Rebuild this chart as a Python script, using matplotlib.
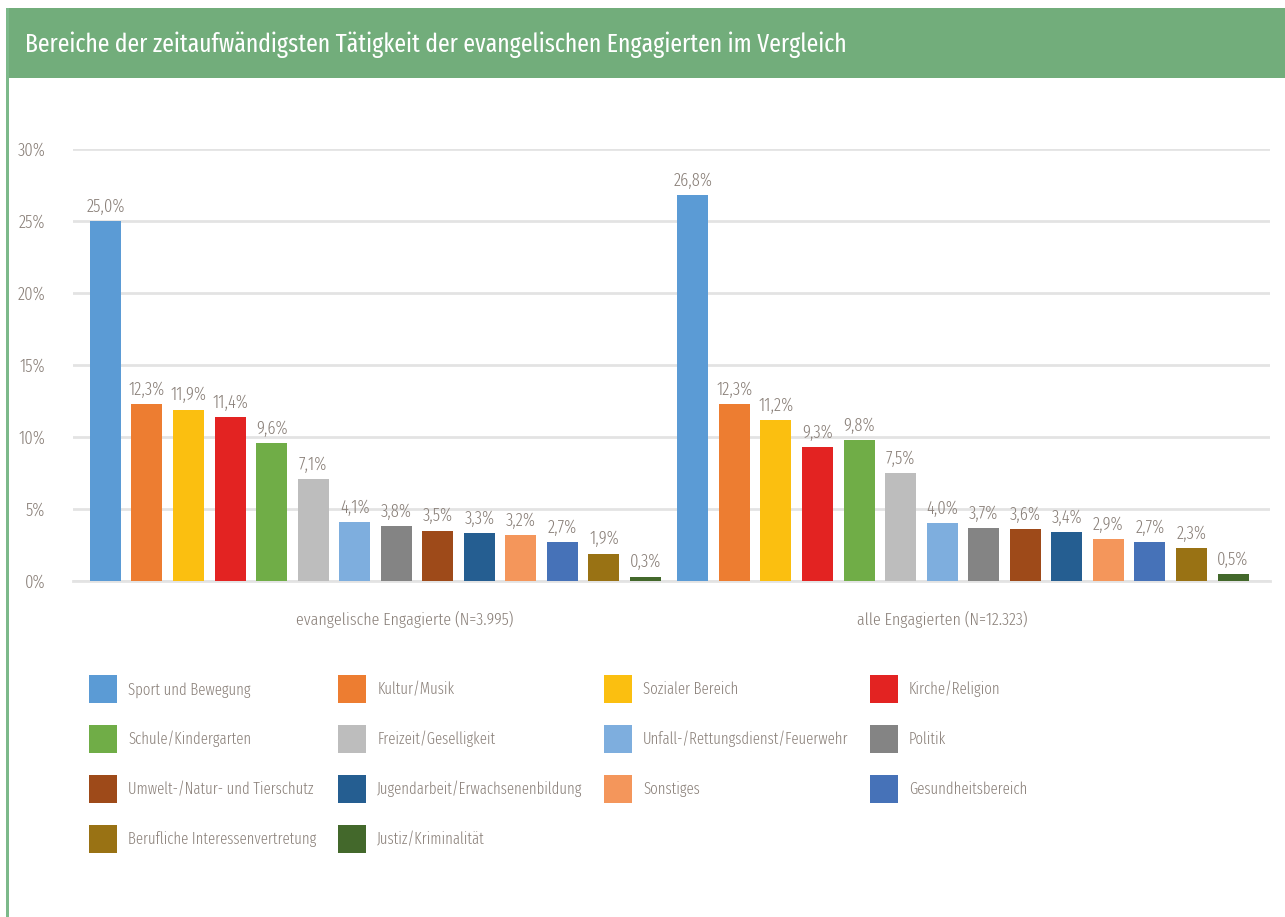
import matplotlib
matplotlib.use("Agg")
import matplotlib.pyplot as plt
from matplotlib import font_manager
from matplotlib.patches import Patch, Rectangle
import numpy as np

categories = ["Sport und Bewegung", "Kultur/Musik", "Sozialer Bereich", "Kirche/Religion",
              "Schule/Kindergarten", "Freizeit/Geselligkeit", "Unfall-/Rettungsdienst/Feuerwehr",
              "Politik", "Umwelt-/Natur- und Tierschutz", "Jugendarbeit/Erwachsenenbildung",
              "Sonstiges", "Gesundheitsbereich", "Berufliche Interessenvertretung",
              "Justiz/Kriminalität"]
groups = ["evangelische Engagierte (N=3.995)", "alle Engagierten (N=12.323)"]
evangelisch = [25.0, 12.3, 11.9, 11.4, 9.6, 7.1, 4.1, 3.8, 3.5, 3.3, 3.2, 2.7, 1.9, 0.3]
alle = [26.8, 12.3, 11.2, 9.3, 9.8, 7.5, 4.0, 3.7, 3.6, 3.4, 2.9, 2.7, 2.3, 0.5]
yticks = [0, 5, 10, 15, 20, 25, 30]
colors = ["#5B9BD5", "#ED7D31", "#FBBF10", "#E32322", "#70AD47", "#BDBDBD", "#7EAEDE",
          "#848484", "#9E4A19", "#255E91", "#F4965B", "#4672B8", "#997214", "#43682B"]

avail = {f.name for f in font_manager.fontManager.ttflist}
fam = "DejaVu Sans"
for cand in ["Fira Sans Extra Condensed", "IBM Plex Sans Condensed", "Roboto Condensed", "Liberation Sans Narrow", "Roboto"]:
    if cand in avail:
        fam = cand
        break
plt.rcParams['font.family'] = [fam, "DejaVu Sans"]
plt.rcParams['font.weight'] = 300

TXT = "#8A8079"
W, H = 1285, 917
fig = plt.figure(figsize=(W / 100, H / 100), dpi=100)

# Header bar and left border
fig.patches.append(Rectangle((6 / W, 1 - 78 / H), 1 - 6 / W, 70 / H, transform=fig.transFigure,
                             facecolor="#72AD7B", edgecolor="none", zorder=0))
fig.patches.append(Rectangle((6 / W, 0), 3 / W, 1 - 8 / H, transform=fig.transFigure,
                             facecolor="#7CB98A", edgecolor="none", zorder=0))
fig.text(25 / W, 1 - 45 / H, "Bereiche der zeitaufwändigsten Tätigkeit der evangelischen Engagierten im Vergleich",
         color="white", fontsize=18.5, va="center", ha="left", fontweight=400)

ax = fig.add_axes([73 / W, 1 - 581 / H, (1270 - 73) / W, (581 - 149) / H])
n = len(categories)
gstep = 14.14
width = 0.746
for g, vals in enumerate([evangelisch, alle]):
    x = np.arange(n) + g * gstep
    ax.bar(x, vals, width=width, color=colors, zorder=3)
    for xi, v in zip(x, vals):
        ax.annotate(f"{v:.1f}%".replace(".", ","), (xi, v), xytext=(0, 4), textcoords="offset points",
                    ha="center", va="bottom", fontsize=13, color=TXT)

ax.set_xlim(-0.78, 28.03)
ax.set_ylim(0, 30)
ax.set_yticks(yticks)
ax.set_yticklabels([f"{t}%" for t in yticks], fontsize=13, color=TXT)
ax.tick_params(axis='y', length=0, pad=20)
ax.set_xticks([(n - 1) / 2 + 0.7, (n - 1) / 2 + gstep - 0.5])
ax.set_xticklabels(groups, fontsize=12.5, color=TXT)
ax.tick_params(axis='x', length=0, pad=22)
ax.grid(axis='y', color="#E3E3E3", linewidth=2, zorder=0)
for s in ["top", "right", "left"]:
    ax.spines[s].set_visible(False)
ax.spines["bottom"].set_color("#E3E3E3")
ax.spines["bottom"].set_linewidth(2)

handles = [Patch(facecolor=c, edgecolor="none") for c in colors]
order = [0, 4, 8, 12, 1, 5, 9, 13, 2, 6, 10, 3, 7, 11]
leg = fig.legend([handles[i] for i in order], [categories[i] for i in order], ncol=4,
                 loc="upper left", bbox_to_anchor=(75 / W, 1 - 661 / H), frameon=False,
                 fontsize=11.5, handlelength=1.75, handleheight=2.32, handletextpad=0.69,
                 columnspacing=1.35, labelspacing=1.38, borderpad=0.4)
for t in leg.get_texts():
    t.set_color(TXT)

fig.savefig("out.png", dpi=100, facecolor="white")
